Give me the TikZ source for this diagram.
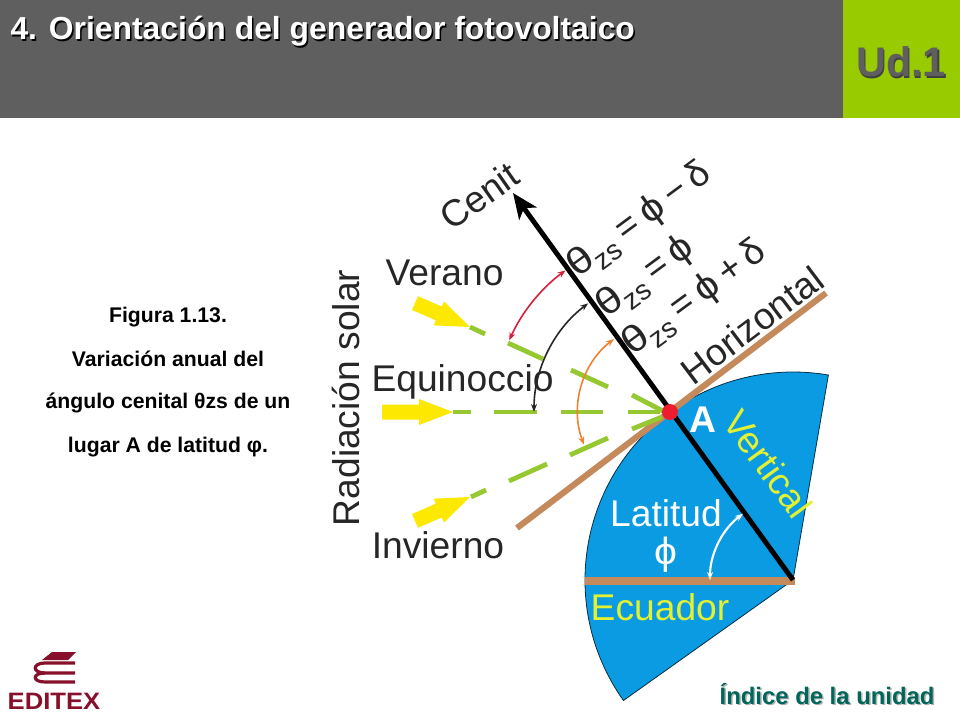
\documentclass[tikz,border=0pt]{standalone}
\usepackage{fontspec}
\setmainfont{Liberation Sans}
\usetikzlibrary{arrows.meta}
\definecolor{headgray}{RGB}{95,95,95}
\definecolor{headgreen}{RGB}{153,204,0}
\definecolor{sectorblue}{RGB}{10,155,226}
\definecolor{raygreen}{RGB}{150,200,50}
\definecolor{sunyellow}{RGB}{252,232,0}
\definecolor{tanline}{RGB}{196,138,92}
\definecolor{labelyellow}{RGB}{228,240,50}
\definecolor{arcorange}{RGB}{238,130,50}
\definecolor{arcred}{RGB}{215,30,60}
\definecolor{dotred}{RGB}{237,28,46}
\definecolor{linkteal}{RGB}{0,102,90}
\definecolor{logored}{RGB}{135,16,42}
\newcommand{\bigfont}{\fontsize{27.9}{27.9}\selectfont}
\newcommand{\zsfont}{\fontsize{21}{21}\selectfont}
\newcommand{\thetazs}{\scalebox{1.2}[1]{θ}\raisebox{-7pt}{\zsfont zs}}
\newcommand{\thinphi}{{\scalebox{1.1}[1.02]{ϕ}}}
\newcommand{\eqgap}{\hspace{5.5pt}}
\tikzset{every picture/.style={line width=0.75pt}}
\tikzset{
  biglabel/.style={font=\bigfont,text=black!85,inner sep=0pt},
  captionline/.style={font=\fontsize{15.9}{15.9}\selectfont\bfseries,text=black,inner sep=0pt},
  ray/.style={draw=raygreen,line width=3.6pt},
  tanbar/.style={draw=tanline,line width=4.6pt},
  anglearc/.style={line width=1.2pt,{Stealth[length=6pt,width=4.5pt]}-{Stealth[length=6pt,width=4.5pt]}}
}
\begin{document}
\begin{tikzpicture}[x=0.75pt,y=0.75pt,yscale=-1]
\useasboundingbox (0,0) rectangle (960,720);

%Header bars
\fill [headgray] (0,0) rectangle (843,118);
\fill [headgreen] (843,0) rectangle (960,118);
\node [anchor=west,inner sep=0pt,text=black,font=\fontsize{23.9}{23.9}\selectfont\bfseries] (titleshadow) at (11.5,33) {4. Orientación del generador fotovoltaico};
\node [anchor=west,inner sep=0pt,text=white,font=\fontsize{23.9}{23.9}\selectfont\bfseries] (title) at (10,31.5) {4. Orientación del generador fotovoltaico};
\node [inner sep=0pt,text=black!75,font=\fontsize{31}{31}\selectfont\bfseries] (unitshadow) at (902.5,63.5) {Ud.1};
\node [inner sep=0pt,text=headgray,font=\fontsize{31}{31}\selectfont\bfseries] (unit) at (901,62) {Ud.1};

%Caption
\node [captionline] (capa) at (168,317) {Figura 1.13.};
\node [captionline] (capb) at (168,359) {Variación anual del};
\node [captionline] (capc) at (168,403) {ángulo cenital θzs de un};
\node [captionline] (capd) at (168,447) {lugar A de latitud φ.};

\coordinate (A) at (670,412);
\coordinate (pivot) at (793,580);
\coordinate (cenit) at (513,193);

%Sector
\draw [fill=sectorblue,draw=black!70!sectorblue,line width=0.6pt,shift={(pivot)}] (0,0) -- (144.6:208) arc [start angle=144.6,end angle=279.8,radius=208] -- cycle;

%Tan lines
\coordinate (horL) at (517,528);
\coordinate (horR) at (826,293);
\coordinate (ecuL) at (585,581);
\coordinate (ecuR) at (795,581);
\draw [tanbar] (horL) -- (horR);
\draw [tanbar,line width=5.4pt] (ecuL) -- (ecuR);

%Green rays
\foreach \xa/\ya/\xb/\yb in {470/327/485/334,508/343/543/359,571/370/608/387,632/395/663/411,
  453/412/471/412,494/412/537/412,561/412/603/412,628/412/660/412,
  471/497/486/490,509/481/547/464,570/455/608/438,632/429/662/417}
  \draw [ray] (\xa,\ya) -- (\xb,\yb);

%Yellow arrows
\foreach \tipx/\tipy/\ang/\len in {470/327/23.5/60,453/412/0/71,470/497/-23.5/60}
  \fill [sunyellow,shift={(\tipx,\tipy)},rotate=\ang] (0,0) -- (-34,-13) -- (-34,-7.5) -- (-\len,-7.5) -- (-\len,7.5) -- (-34,7.5) -- (-34,13) -- cycle;

%Cenit axis
\draw [line width=3.7pt,-{Stealth[length=19pt,width=16pt,inset=5pt]}] (pivot) -- (cenit);

%Angle arcs
\draw [anglearc,draw=arcred,fill=none,shift={(A)}] (204:176) arc [start angle=204,end angle=233.6,radius=176];
\draw [anglearc,draw=black!85,shift={(A)}] (180:136) arc [start angle=180,end angle=233,radius=136];
\draw [anglearc,draw=arcorange,shift={(A)}] (159.2:92) arc [start angle=159.2,end angle=232.5,radius=92];
\draw [anglearc,draw=white,line width=1.6pt,shift={(pivot)}] (180:83) arc [start angle=180,end angle=233,radius=83];

%Point A
\fill [dotred] (A) circle (8);

%Labels
\node [biglabel,rotate=35] (cenitlabel) at (479,196) {Cenit};
\node [biglabel] (verano) at (444.5,273) {Verano};
\node [biglabel] (equinoccio) at (462.5,382) {Equinoccio};
\node [biglabel] (invierno) at (438,545) {Invierno};
\node [biglabel,rotate=90] (radiacion) at (346,398) {Radiación solar};
\node [biglabel,rotate=37] (horizontal) at (752,325) {Horizontal};
\node [biglabel,rotate=36.4] (eqa) at (640,221) {\thetazs\eqgap=\eqgap\thinphi\eqgap−\eqgap δ};
\node [biglabel,rotate=36.4] (eqb) at (646,278) {\thetazs\eqgap=\eqgap\thinphi};
\node [biglabel,rotate=36.4] (eqc) at (695,299) {\thetazs\eqgap=\eqgap\thinphi\eqgap+\eqgap δ};
\node [biglabel,text=white] (latitud) at (666,513) {Latitud};
\node [biglabel,text=white] (phi) at (666,555) {\thinphi};
\node [biglabel,text=labelyellow] (ecuador) at (660,607) {Ecuador};
\node [biglabel,text=labelyellow,rotate=-54] (vertical) at (768,464) {Vertical};
\node [biglabel,text=white,font=\bigfont\bfseries] (Alabel) at (703,420) {A};

%Link
\node [anchor=east,inner sep=0pt,text=black!30,font=\fontsize{17.9}{17.9}\selectfont\bfseries] (linkshadow) at (936.5,695.5) {Índice de la unidad};
\node [anchor=east,inner sep=0pt,text=linkteal,font=\fontsize{17.9}{17.9}\selectfont\bfseries] (link) at (935,694) {Índice de la unidad};

%Logo
\fill [logored] (52,652) -- (76,652) -- (68,660) -- (42,660) -- cycle;
\draw [logored,line width=2.4pt] (75,663) -- (45,663) .. controls (32,663) and (32,673) .. (45,673) -- (75,673);
\draw [logored,line width=2.4pt] (45,673) .. controls (32,673) and (32,682) .. (45,682) -- (75,682);
\node [inner sep=0pt,text=logored,xscale=1.08,font=\fontsize{17.8}{17.8}\selectfont\bfseries] (editex) at (54,701) {EDITEX};
\end{tikzpicture}
\end{document}
